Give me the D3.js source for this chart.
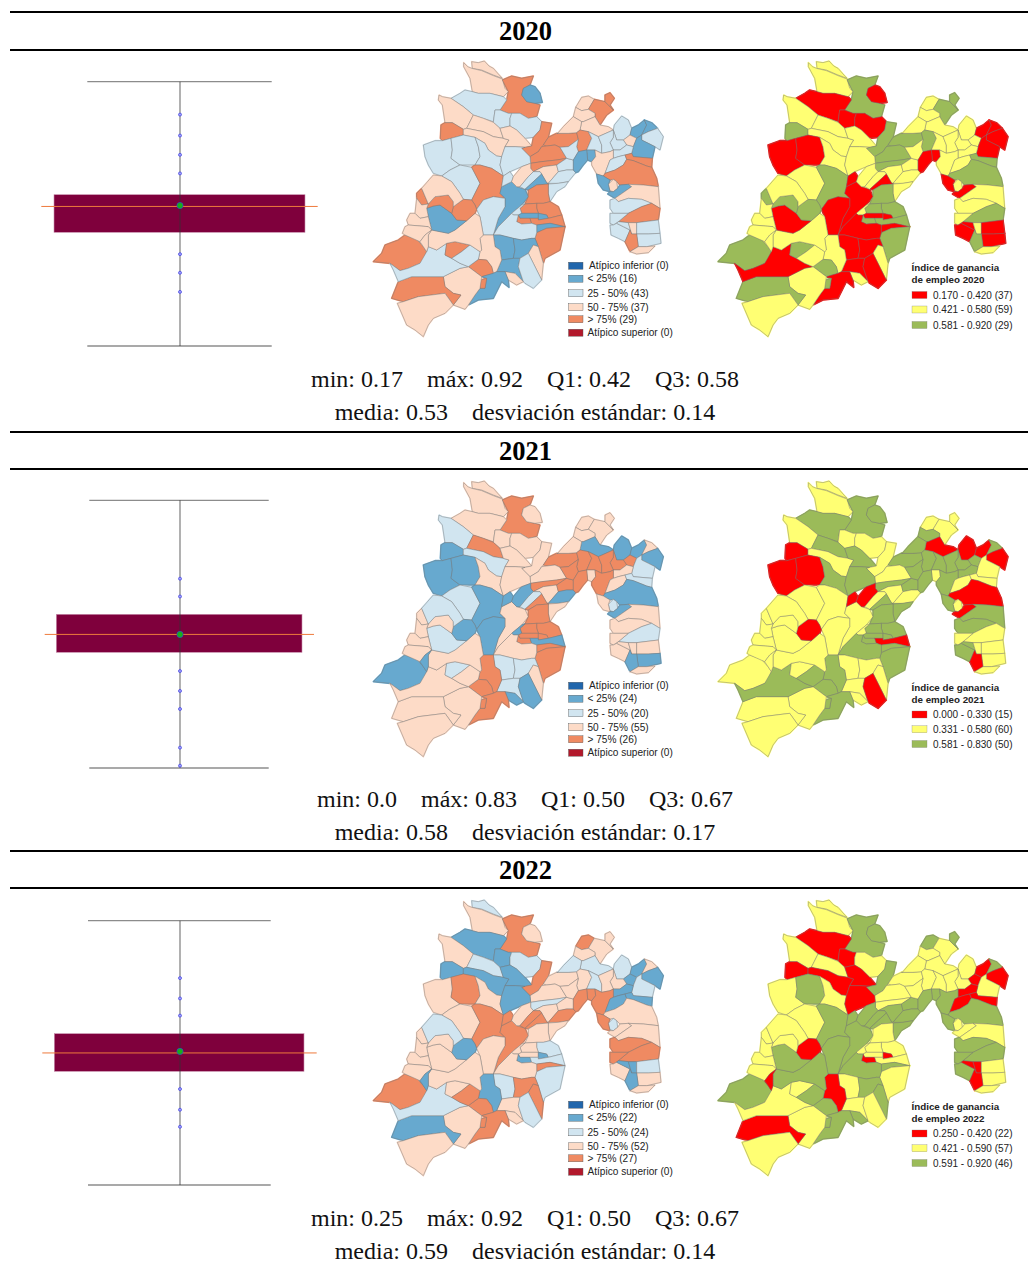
<!DOCTYPE html>
<html><head><meta charset="utf-8">
<script src="https://cdn.jsdelivr.net/npm/d3@7"></script>
<style>html,body{margin:0;padding:0;background:#fff}svg{display:block}</style>
</head><body><svg id="c" width="1028" height="1264"></svg>
<script>
const years = [2020, 2021, 2022];
const statLines = [
  ["min: 0.17    máx: 0.92    Q1: 0.42    Q3: 0.58", "media: 0.53    desviación estándar: 0.14"],
  ["min: 0.0    máx: 0.83    Q1: 0.50    Q3: 0.67", "media: 0.58    desviación estándar: 0.17"],
  ["min: 0.25    máx: 0.92    Q1: 0.50    Q3: 0.67", "media: 0.59    desviación estándar: 0.14"]
];
const boxMin = [0.17, 0.0, 0.25];
const boxQ1 = [0.42, 0.50, 0.50];
const boxQ3 = [0.58, 0.67, 0.67];
const boxMax = [0.92, 0.83, 0.92];
const boxMean = [0.534, 0.58, 0.59];
const boxMedian = [0.53, 0.58, 0.583];
const boxPoints = [
  [0.821, 0.758, 0.70, 0.644, 0.372, 0.331, 0.289],
  [0.72, 0.695, 0.419, 0.333, 0.255, 0.088, 0.01],
  [0.793, 0.748, 0.71, 0.461, 0.4155, 0.378]
];
const quartileLabels = [
  ["Atípico inferior (0)", "< 25% (16)", "25 - 50% (43)", "50 - 75% (37)", "> 75% (29)", "Atípico superior (0)"],
  ["Atípico inferior (0)", "< 25% (24)", "25 - 50% (20)", "50 - 75% (55)", "> 75% (26)", "Atípico superior (0)"],
  ["Atípico inferior (0)", "< 25% (22)", "25 - 50% (24)", "50 - 75% (52)", "> 75% (27)", "Atípico superior (0)"]
];
const quartileColors = ["#2166ac", "#67a9cf", "#d1e5f0", "#fddbc7", "#ef8a62", "#b2182b"];
const breakLabels = [
  ["0.170 - 0.420 (37)", "0.421 - 0.580 (59)", "0.581 - 0.920 (29)"],
  ["0.000 - 0.330 (15)", "0.331 - 0.580 (60)", "0.581 - 0.830 (50)"],
  ["0.250 - 0.420 (22)", "0.421 - 0.590 (57)", "0.591 - 0.920 (46)"]
];
const breakColors = ["#ff0000", "#ffff73", "#9bbb59"];
const classFill = {L:"#67a9cf", B:"#d1e5f0", P:"#fddbc7", O:"#ef8a62", R:"#ff0000", Y:"#ffff73", G:"#9bbb59"};

// Municipal outlines. Each key: quartile class 2020/21/22, then break class 2020/21/22.
const keys = [
"PPBYYY","PPPYYY","OOOGGG","LPPRGG","BPLRGR","PBPYYY","BPLRYR","BPBRYY","OLLGRR","POBYGY",
"PBLYYR","PPLYGR","OPOGYG","OOPGGY","OPPGYY","OOBGGY","PPPYYG","BOPYGG","BLOYYG","BPPYGG",
"PPOYYG","OPPGYY","OPPGYG","PPPYGY","PLBYRY","PPBYGY","OOPGGY","BOBYGY","BOPYGY","LPORYG",
"LOORGG","BLBYRY","LLLRRR","LPPRGG","BLLRRR","POLYGR","LBBRYY","BOPYGY","BOPYGY","BPLYGR",
"POOYGG","BPLYYR","OBLGYR","OLPGRG","PBBYYY","LPORGG","LLPRRY","PPPYGY","BPOYGG","OBOGYG",
"BPOYYG","BPPRGG","BPLRGR","PPLYYR","BPBRYY","BLPRYY","OLLGRR","PPPYYY",
"BLPRRY","BLORRG","BPPYGY","BPLYGR","BBPYYY","OLOGYG","LPORYG","BLPRYG","BLORRG","PLPYRG",
"BBOYYG","LOORGG","OOPGGY","OOBGGY","OOPGGY","BLPYYY","LOPRGY","OOLGGR","LOLRGR","OLBGRY",
"LOORGG","OOBGGY","BPPRGG","LBBRYY","LBORYG","PPOYYG","LBPRYY","BLBRRY","PLPYYG","POLYGR",
"OOOGGG","LOORGG","OOOGGG","PPPYYY","OPLGYR","PPPYYY","OLOGYG","BPBRGY","OBPGYY","BPOYGG",
"PPPYYG","LBPRYG","OLLGRR","OPPGYY","OPPGYY","PBBYYY","PPPYYY","PPPYYY","PPPYYY","PLLYYR"
];
const shapes = [
[[320,35],[340,38],[358,33],[372,48],[385,55],[400,72],[412,85],[385,75],[350,60],[322,55]],
[[296,38],[308,50],[320,55],[350,62],[385,77],[412,87],[420,115],[430,125],[415,140],[375,130],[340,130],[322,125],[315,85],[296,50]],
[[412,90],[440,78],[470,85],[505,78],[495,105],[475,115],[470,135],[485,155],[510,160],[525,165],[515,200],[490,205],[465,190],[430,190],[405,180],[425,150],[430,125],[420,105]],
[[470,135],[475,115],[495,105],[510,110],[525,130],[532,157],[510,160],[485,155]],
[[258,145],[285,130],[300,120],[322,125],[340,130],[375,130],[415,140],[425,150],[405,180],[390,180],[385,215],[355,205],[325,195],[295,170]],
[[222,135],[232,140],[258,145],[295,170],[325,195],[305,235],[295,238],[262,218],[240,218],[232,165],[220,150]],
[[390,180],[405,180],[430,190],[440,190],[435,205],[435,228],[405,235],[385,217]],
[[440,190],[465,190],[490,205],[515,200],[530,215],[525,240],[505,262],[480,265],[455,240],[435,228],[435,205]],
[[228,225],[240,218],[262,218],[295,238],[295,255],[258,265],[232,272],[226,265]],
[[305,235],[325,195],[355,205],[385,217],[405,235],[415,265],[385,260],[355,245]],
[[295,238],[305,235],[355,245],[385,260],[415,265],[432,270],[420,290],[410,320],[395,318],[370,300],[360,280],[330,262],[295,255]],
[[405,235],[435,228],[455,240],[480,265],[500,288],[480,292],[450,290],[420,290],[432,270],[415,265]],
[[530,215],[560,220],[550,262],[535,285],[530,290],[520,305],[495,320],[470,295],[480,292],[500,288],[505,262],[525,240]],
[[550,262],[575,250],[610,250],[635,248],[640,268],[610,290],[585,292],[570,285],[545,288],[535,285]],
[[530,290],[545,288],[570,285],[585,292],[605,325],[575,330],[530,335],[497,340],[495,320],[520,305]],
[[497,340],[530,335],[575,330],[605,325],[575,345],[535,350],[505,365],[497,355]],
[[535,350],[575,345],[580,365],[550,400],[545,398],[530,372],[525,365],[505,365]],
[[575,345],[605,325],[625,330],[625,360],[605,360],[580,365]],
[[550,400],[580,365],[605,360],[625,360],[632,368],[610,395],[580,400]],
[[550,402],[580,400],[610,395],[600,410],[575,425],[555,455],[550,430]],
[[632,172],[650,142],[670,138],[688,148],[670,178],[650,182]],
[[688,148],[720,155],[745,180],[725,195],[705,225],[690,200],[690,190],[670,178]],
[[720,135],[735,128],[748,145],[735,165],[745,180],[720,155]],
[[632,172],[650,182],[670,178],[690,190],[690,200],[655,215],[650,215],[625,200]],
[[655,215],[690,200],[705,225],[730,230],[745,240],[700,260],[670,245],[645,240],[650,215]],
[[578,250],[595,230],[625,200],[650,215],[645,240],[635,248],[610,250],[575,250]],
[[635,248],[645,240],[670,245],[680,265],[665,300],[640,305],[635,290],[640,268]],
[[670,245],[700,260],[710,285],[710,310],[690,300],[665,300],[680,265]],
[[610,290],[640,268],[635,290],[640,305],[625,330],[605,325],[585,292]],
[[665,300],[690,300],[692,320],[680,335],[668,330]],
[[625,330],[640,305],[665,300],[668,330],[655,345],[640,365],[632,368],[625,360]],
[[748,225],[770,198],[790,210],[800,235],[795,255],[775,270],[755,270],[745,240]],
[[800,235],[820,225],[838,210],[845,225],[830,255],[815,265],[795,255]],
[[838,210],[860,218],[878,235],[850,245],[830,255],[845,225]],
[[878,235],[895,260],[885,300],[870,290],[850,280],[830,270],[830,255],[850,245]],
[[775,270],[795,255],[815,265],[805,290],[785,285]],
[[830,270],[850,280],[870,290],[862,325],[805,320],[800,310],[805,290],[815,265],[830,255]],
[[745,240],[755,270],[775,270],[785,285],[765,300],[745,300],[735,278],[745,262]],
[[700,260],[745,240],[745,262],[735,278],[745,300],[735,305],[710,310],[710,285]],
[[745,300],[765,300],[785,285],[805,290],[800,310],[780,315],[760,320],[745,325]],
[[692,320],[690,300],[710,310],[735,305],[745,300],[745,325],[735,330],[720,370],[715,378],[695,372],[680,345],[680,335]],
[[735,330],[745,325],[760,320],[780,315],[785,328],[775,345],[750,360],[720,370]],
[[780,315],[800,310],[805,320],[862,325],[860,352],[845,348],[805,332],[785,328]],
[[720,370],[750,360],[775,345],[785,328],[805,332],[845,348],[860,352],[875,385],[880,410],[835,405],[790,403],[765,405],[755,395],[745,388],[735,390],[715,378]],
[[730,403],[745,388],[755,395],[758,415],[745,425],[735,422]],
[[695,372],[715,378],[735,390],[730,403],[735,425],[715,420],[700,400]],
[[735,425],[745,425],[758,415],[765,405],[790,403],[800,410],[750,445],[728,432]],
[[750,445],[800,410],[790,403],[835,405],[880,410],[885,475],[860,460],[830,448],[790,445],[760,455]],
[[735,450],[750,445],[760,455],[790,445],[830,448],[860,460],[830,470],[790,490],[745,490],[735,475]],
[[760,515],[790,490],[830,470],[860,460],[885,475],[880,510],[815,518],[790,518]],
[[735,490],[745,490],[790,490],[760,515],[745,525],[735,520]],
[[735,525],[745,525],[755,520],[775,530],[795,540],[780,575],[760,565],[738,555]],
[[755,520],[760,515],[790,518],[800,552],[795,540],[775,530]],
[[790,518],[815,518],[815,552],[800,552]],
[[815,518],[880,510],[885,550],[850,552],[815,552]],
[[815,552],[850,552],[885,550],[888,580],[845,590],[820,590]],
[[780,575],[795,540],[800,552],[815,552],[820,590],[795,605]],
[[795,605],[820,590],[845,590],[870,588],[850,608],[815,612]],
[[175,285],[210,272],[232,272],[258,265],[262,300],[258,325],[285,345],[255,360],[230,378],[205,370],[190,345],[180,320]],
[[258,265],[295,255],[330,262],[340,290],[345,320],[330,345],[285,345],[258,325],[262,300]],
[[330,262],[360,280],[370,300],[395,318],[410,320],[405,345],[415,378],[380,355],[345,345],[330,345],[345,320],[340,290]],
[[410,320],[420,290],[450,290],[480,292],[470,295],[495,320],[497,340],[470,350],[435,365],[415,378],[405,345]],
[[230,378],[255,360],[285,345],[320,352],[345,400],[320,450],[295,448],[285,430],[260,395]],
[[320,352],[330,345],[345,345],[380,355],[415,378],[410,410],[405,430],[420,445],[385,440],[355,450],[335,478],[330,465],[320,450],[345,400]],
[[405,430],[410,410],[420,405],[440,395],[455,410],[480,418],[490,440],[470,465],[440,490],[400,530],[385,555],[400,505],[420,470],[420,445]],
[[355,450],[385,440],[420,445],[420,470],[400,505],[385,555],[355,555],[345,500],[335,478]],
[[415,378],[435,365],[445,380],[440,395],[420,405],[410,410]],
[[445,380],[470,350],[497,340],[497,355],[505,365],[490,380],[465,410],[455,410],[440,395]],
[[490,380],[505,365],[525,365],[530,372],[505,395],[480,418],[465,410]],
[[480,418],[505,395],[530,372],[545,398],[550,402],[515,405],[490,420]],
[[490,420],[515,405],[550,402],[550,430],[555,455],[535,460],[515,460],[480,462],[490,440]],
[[515,460],[535,460],[555,455],[580,470],[590,495],[550,505],[545,495],[520,490],[515,475]],
[[480,462],[515,460],[515,475],[520,490],[470,490],[465,475]],
[[440,490],[470,465],[480,462],[465,475],[470,490],[460,495],[445,495]],
[[470,490],[520,490],[520,505],[495,505],[465,505],[460,495]],
[[465,505],[495,505],[500,520],[470,522],[455,515],[460,495]],
[[520,490],[545,495],[550,505],[520,510],[520,505]],
[[520,510],[550,505],[590,495],[600,530],[555,520],[515,525],[500,520],[495,505],[520,505]],
[[515,525],[555,520],[600,530],[545,535],[515,548]],
[[515,548],[545,535],[600,530],[585,600],[540,625],[535,640],[520,590],[510,565]],
[[385,555],[400,530],[440,490],[445,495],[460,495],[455,515],[470,522],[500,520],[515,525],[515,548],[510,565],[500,565],[470,570],[445,565],[405,555]],
[[385,555],[405,555],[445,565],[450,600],[445,625],[410,630],[405,600],[390,590]],
[[445,565],[470,570],[500,565],[510,565],[520,590],[505,585],[490,610],[465,625],[445,625],[450,600]],
[[505,585],[520,590],[535,640],[530,690],[505,640],[490,610]],
[[410,630],[445,625],[465,625],[460,650],[475,695],[450,670],[420,665],[395,665]],
[[465,625],[490,610],[505,640],[530,690],[505,715],[480,700],[475,695],[460,650]],
[[420,665],[450,670],[475,695],[455,705],[430,690]],
[[345,565],[355,555],[385,555],[390,590],[405,600],[410,630],[395,665],[385,670],[380,650],[365,630],[340,628],[345,605],[350,600]],
[[310,650],[340,628],[365,630],[380,650],[385,670],[350,680]],
[[350,680],[385,670],[395,665],[420,665],[430,690],[432,712],[410,695],[385,745],[340,750],[310,765],[330,735],[345,715],[360,715],[365,685]],
[[345,690],[365,685],[360,715],[345,715]],
[[235,680],[285,655],[310,650],[350,680],[345,715],[330,735],[310,765],[300,778],[265,765],[288,735],[265,730],[240,710]],
[[100,695],[140,680],[235,680],[240,710],[265,730],[288,735],[265,765],[240,730],[160,740],[115,755],[80,745]],
[[97,760],[115,755],[160,740],[240,730],[265,765],[240,790],[205,805],[190,825],[175,860],[150,840],[125,825]],
[[25,635],[50,610],[60,585],[100,570],[120,555],[155,568],[175,590],[185,605],[175,630],[165,640],[130,655],[105,662],[75,640]],
[[75,640],[105,662],[130,655],[165,640],[185,605],[190,590],[215,600],[245,580],[240,615],[260,625],[285,640],[310,650],[285,655],[235,680],[140,680],[100,695],[85,660]],
[[245,580],[270,575],[315,585],[290,605],[260,625],[240,615]],
[[290,605],[315,585],[345,605],[340,628],[310,650],[285,640],[260,625]],
[[190,555],[200,540],[250,550],[270,540],[305,512],[330,490],[345,500],[355,555],[345,565],[350,600],[345,605],[315,585],[270,575],[245,580],[215,600],[190,590]],
[[185,475],[205,468],[225,465],[260,490],[275,510],[305,512],[270,540],[250,550],[200,540],[190,500]],
[[265,470],[295,448],[320,450],[330,465],[335,478],[330,490],[305,512],[275,510],[260,490]],
[[190,462],[210,440],[250,435],[265,455],[265,470],[260,490],[225,465],[205,468],[185,475]],
[[155,430],[170,415],[190,462],[170,465],[155,445]],
[[170,415],[205,375],[230,378],[260,395],[285,430],[295,448],[265,470],[265,455],[250,435],[210,440],[190,462]],
[[155,445],[170,465],[190,462],[185,475],[190,500],[165,505],[150,490]],
[[135,490],[150,490],[165,505],[190,500],[200,540],[190,530],[130,525],[125,510]],
[[112,550],[120,530],[130,525],[190,530],[200,540],[180,555],[165,575],[120,555]],
[[165,575],[180,555],[200,540],[190,555],[190,590],[185,605]]
];
const codeIndex = {q:[0,1,2], t:[3,4,5]};

const svg = d3.select("#c");
const serif = "'Liberation Serif','Times New Roman',serif";
const sans = "'Liberation Sans',Arial,sans-serif";

// Header and stat text
const ruleTop = [12, 432, 851], ruleBottom = [50, 469, 888];
const titleBase = [40, 460, 879];
const statBase = [[387, 420], [807, 840], [1226, 1259]];
years.forEach((yr, i) => {
  [ruleTop[i], ruleBottom[i]].forEach(y =>
    svg.append("line").attr("x1", 10).attr("x2", 1028).attr("y1", y).attr("y2", y)
      .attr("stroke", "#000").attr("stroke-width", 2));
  svg.append("text").attr("x", 525.5).attr("y", titleBase[i]).attr("text-anchor", "middle")
    .attr("font-family", serif).attr("font-weight", "bold").attr("font-size", 26.5).text(yr);
  statLines[i].forEach((t, k) =>
    svg.append("text").attr("x", 525).attr("y", statBase[i][k]).attr("text-anchor", "middle")
      .attr("font-family", serif).attr("font-size", 24).attr("xml:space", "preserve")
      .style("white-space", "pre").attr("fill", "#111").text(t));
});

// Box plots
const capY = [[346, 81.7], [768, 500.3], [1185, 920.7]];
const boxY = [[232.3, 194.7], [652.3, 614.3], [1071.3, 1033.7]];
const capX = [[87.3, 271.7], [89.3, 268.7], [88, 270.7]];
const boxX = [[54, 305], [56.3, 302], [54.3, 304]];
const medX = [[41.3, 317.7], [44.7, 314], [42.3, 316.7]];
const stemX = 180;
years.forEach((yr, i) => {
  const y = d3.scaleLinear()
    .domain([boxMin[i], boxQ1[i], boxQ3[i], boxMax[i]])
    .range([capY[i][0], boxY[i][0], boxY[i][1], capY[i][1]]);
  const g = svg.append("g");
  g.append("rect").attr("x", boxX[i][0]).attr("width", boxX[i][1] - boxX[i][0])
    .attr("y", y(boxQ3[i])).attr("height", y(boxQ1[i]) - y(boxQ3[i]))
    .attr("fill", "#7f003c").attr("stroke", "#c890ad").attr("stroke-width", 0.6);
  [boxMin[i], boxMax[i]].forEach(v =>
    g.append("line").attr("x1", capX[i][0]).attr("x2", capX[i][1]).attr("y1", y(v)).attr("y2", y(v))
      .attr("stroke", "#8c8c8c").attr("stroke-width", 1.3));
  g.append("line").attr("x1", stemX).attr("x2", stemX).attr("y1", y(boxMin[i])).attr("y2", y(boxMax[i]))
    .attr("stroke", "#333").attr("stroke-opacity", 0.7).attr("stroke-width", 1.1);
  g.append("line").attr("x1", medX[i][0]).attr("x2", medX[i][1]).attr("y1", y(boxMedian[i])).attr("y2", y(boxMedian[i]))
    .attr("stroke", "#ee7a3c").attr("stroke-width", 1);
  g.selectAll("circle.pt").data(boxPoints[i]).join("circle").attr("class", "pt")
    .attr("cx", stemX).attr("cy", d => y(d)).attr("r", 1.5)
    .attr("fill", "#a0a0ff").attr("stroke", "#4a4ae0").attr("stroke-width", 0.8);
  g.append("circle").attr("cx", stemX).attr("cy", y(boxMean[i])).attr("r", 3.1)
    .attr("fill", "#18b018").attr("stroke", "#2a50d0").attr("stroke-width", 0.7);
});

// Maps
const mapTop = [50, 470, 889];
const leftX = 365, rightX = 709.7;
const features = shapes.map((s, idx) => ({
  type: "Feature", properties: {key: keys[idx]},
  geometry: {type: "Polygon", coordinates: [s.concat([s[0]])]}
}));
function drawMap(x0, y0, pos) {
  const path = d3.geoPath(d3.geoIdentity().scale(1 / 3).translate([x0, y0]));
  const fill = d => classFill[d.properties.key[pos]];
  const g = svg.append("g");
  g.selectAll("path.u").data(features).join("path").attr("class", "u").attr("d", path)
    .attr("fill", fill).attr("stroke", fill).attr("stroke-width", 1.6).attr("stroke-linejoin", "round");
  g.selectAll("path.m").data(features).join("path").attr("class", "m").attr("d", path)
    .attr("fill", fill).attr("stroke", "#777").attr("stroke-width", 0.45).attr("stroke-linejoin", "round");
}

// Legends
const qRows = [215.7, 228.7, 243.3, 257.3, 269.3, 282.7];
const tTitleRows = [[217.5, 229.5], [217, 229], [217, 229]];
const tRows = [[245, 259.5, 275], [244.5, 259.3, 274], [244.5, 259.3, 274]];
years.forEach((yr, i) => {
  drawMap(leftX, mapTop[i], codeIndex.q[i]);
  drawMap(rightX, mapTop[i], codeIndex.t[i]);
  const lg = svg.append("g").attr("font-family", sans).attr("font-size", 10.1).attr("fill", "#222");
  quartileLabels[i].forEach((t, k) => {
    const y = mapTop[i] + qRows[k];
    lg.append("rect").attr("x", 568.5).attr("y", y - 3.5).attr("width", 14.5).attr("height", 7)
      .attr("fill", quartileColors[k]).attr("stroke", "#555").attr("stroke-width", 0.4);
    lg.append("text").attr("x", k === 0 ? 589 : 587.5).attr("y", y + 3.5).text(t);
  });
  const tl = svg.append("g").attr("font-family", sans).attr("font-size", 10).attr("fill", "#222");
  ["Índice de ganancia", "de empleo " + yr].forEach((t, k) =>
    tl.append("text").attr("x", 911.5).attr("y", mapTop[i] + tTitleRows[i][k] + 3.5)
      .attr("font-size", 9.8).attr("font-weight", "bold").text(t));
  breakLabels[i].forEach((t, k) => {
    const y = mapTop[i] + tRows[i][k];
    tl.append("rect").attr("x", 912).attr("y", y - 3.5).attr("width", 15).attr("height", 7)
      .attr("fill", breakColors[k]).attr("stroke", "#777").attr("stroke-width", 0.3);
    tl.append("text").attr("x", 933).attr("y", y + 3.5).text(t);
  });
});
</script></body></html>
